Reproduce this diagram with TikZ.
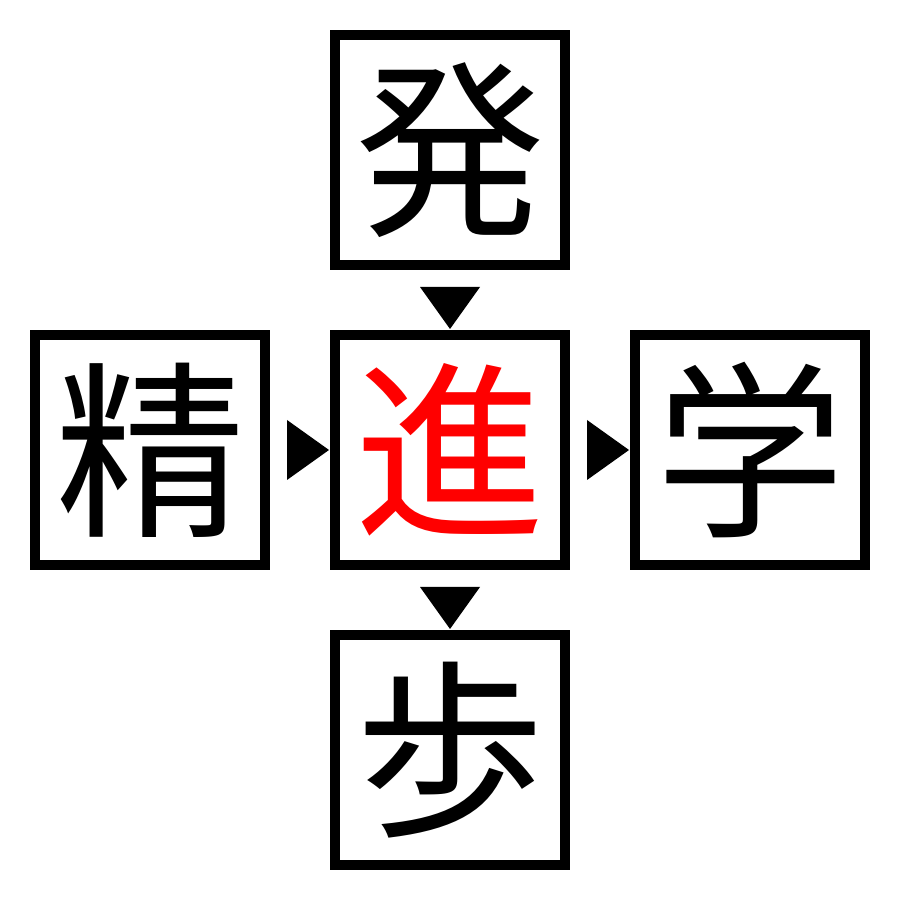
\documentclass[tikz,border=0pt]{standalone}
\usepackage{fontspec}
\newfontfamily\cjk{Noto Sans CJK JP}
\usetikzlibrary{calc}
\tikzset{
  kbox/.style={draw=black, line width=0.1cm, minimum width=2.3cm, minimum height=2.3cm, inner sep=0pt, fill=white,
    font=\cjk\fontsize{54}{54}\selectfont},
  tri/.style={fill=black}
}
\begin{document}
\begin{tikzpicture}
\useasboundingbox (0,0) rectangle (9,9);
\node[kbox] (top) at (4.5,7.5) {発};
\node[kbox, text=red] (mid) at (4.5,4.5) {進};
\node[kbox] (left) at (1.5,4.5) {精};
\node[kbox] (right) at (7.5,4.5) {学};
\node[kbox] (bot) at (4.5,1.5) {歩};
% down triangles
\fill[tri] ($(top.south)+(-0.3,-0.17)$) -- ($(top.south)+(0.3,-0.17)$) -- ($(top.south)+(0,-0.59)$) -- cycle;
\fill[tri] ($(mid.south)+(-0.3,-0.17)$) -- ($(mid.south)+(0.3,-0.17)$) -- ($(mid.south)+(0,-0.59)$) -- cycle;
% right triangles
\fill[tri] ($(left.east)+(0.17,0.3)$) -- ($(left.east)+(0.17,-0.3)$) -- ($(left.east)+(0.59,0)$) -- cycle;
\fill[tri] ($(mid.east)+(0.17,0.3)$) -- ($(mid.east)+(0.17,-0.3)$) -- ($(mid.east)+(0.59,0)$) -- cycle;
\end{tikzpicture}
\end{document}
